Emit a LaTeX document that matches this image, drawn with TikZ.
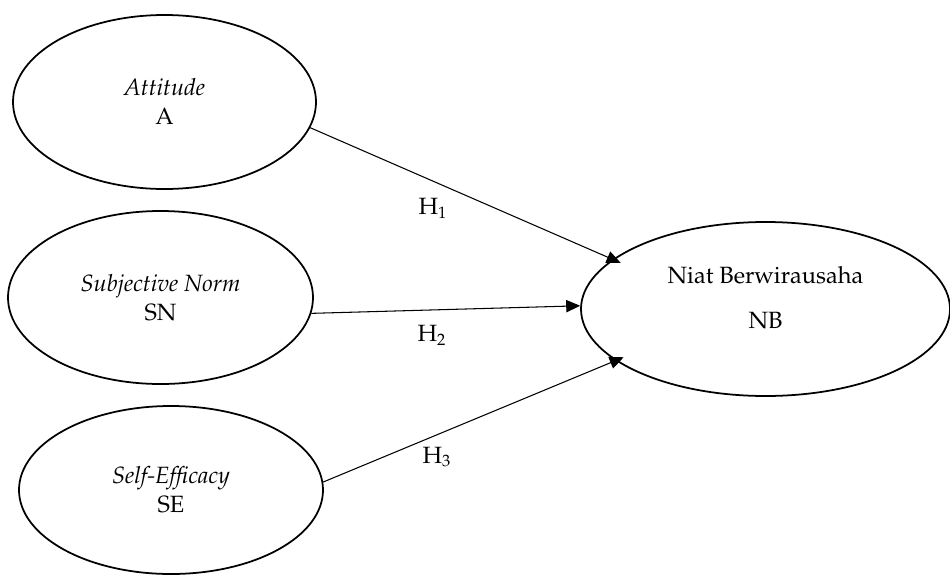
\documentclass[tikz,border=0pt]{standalone}
\usepackage[T1]{fontenc}
\renewcommand{\rmdefault}{ppl}
\usepackage{tikz}
\usetikzlibrary{shapes.geometric,arrows.meta}

\tikzset{
  konstruk/.style={draw, ellipse, line width=1pt, inner sep=0pt, align=center,
    font=\fontsize{13.4}{16.5}\selectfont},
  panah/.style={-{Triangle[length=8pt,width=7pt]}, line width=0.6pt},
  hipo/.style={font=\fontsize{13.4}{16}\selectfont}
}

\begin{document}
\begin{tikzpicture}[x=0.02cm, y=-0.02cm]
			\useasboundingbox (0,0) rectangle (950,575);
			% Vẽ các biến
			\node[konstruk, minimum width=303*0.02cm, minimum height=174*0.02cm] (A) at (164.5,102) {\textit{Attitude}\\A};
			\node[konstruk, minimum width=305*0.02cm, minimum height=173*0.02cm] (SN) at (160.5,297.5) {\textit{Subjective Norm}\\SN};
			\node[konstruk, minimum width=304*0.02cm, minimum height=168*0.02cm] (SE) at (171,490) {\textit{Self-Efficacy}\\SE};
			\node[konstruk, minimum width=369*0.02cm, minimum height=174*0.02cm] (NB) at (765.5,309) {Niat Berwirausaha\\[9pt]NB\rule[-0.46cm]{0pt}{0pt}};
			% Vẽ các mũi tên
			\draw[panah, shorten >=-5pt] (A.-10) -- (NB.162);
			\draw[panah] (SN.-6) -- (NB.179);
			\draw[panah, shorten >=-5pt] (SE.3) -- (NB.-161.5);
			% Nhãn giả thuyết
			\node[hipo] (h1) at (433,208) {H\textsubscript{1}};
			\node[hipo] (h2) at (432,335) {H\textsubscript{2}};
			\node[hipo] (h3) at (437,457) {H\textsubscript{3}};
\end{tikzpicture}
\end{document}
